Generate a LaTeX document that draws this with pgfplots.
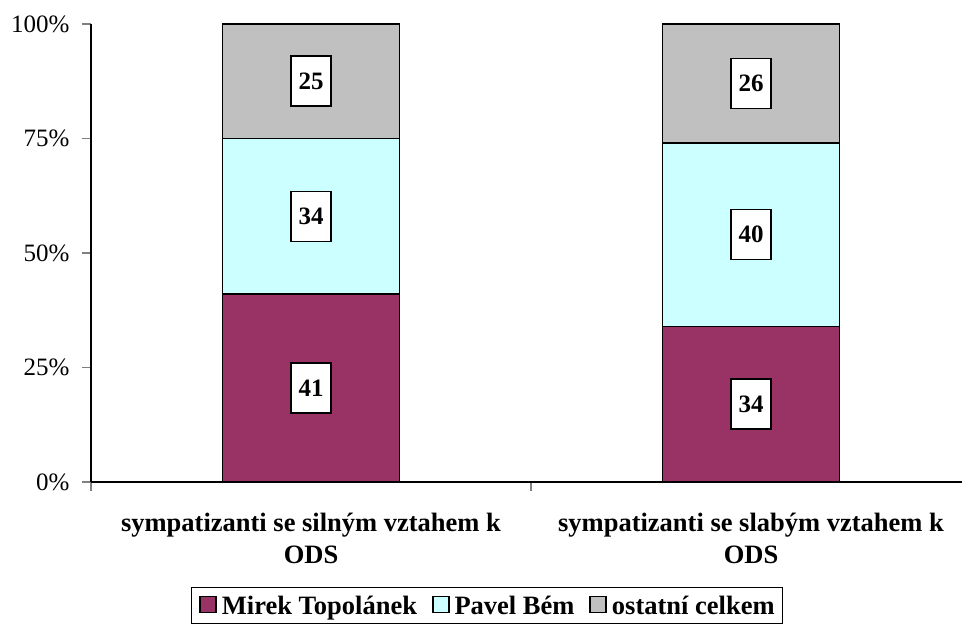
\documentclass[border=0pt]{standalone}
\usepackage{fontspec}
\setmainfont{Liberation Serif}
\usepackage{pgfplots}
\pgfplotsset{compat=1.18}
\definecolor{tp}{RGB}{153,51,102}
\definecolor{pb}{RGB}{204,255,255}
\definecolor{oc}{RGB}{192,192,192}
\begin{document}
\begin{tikzpicture}
\path[use as bounding box] (0,0) rectangle (962bp,627bp);
\begin{axis}[
  at={(91bp,145bp)}, anchor=south west,
  scale only axis, width=880bp, height=458bp,
  ybar stacked, bar width=176.6bp,
  xmin=-0.5, xmax=1.5, ymin=0, ymax=100,
  axis lines=left, axis line style={-, line width=1.5bp},
  xtick={0,1},
  xticklabels={{sympatizanti se silným vztahem k\\ODS},{sympatizanti se slabým vztahem k\\ODS}},
  major x tick style={draw=none},
  minor xtick={-0.5,0.5,1.5},
  minor x tick style={line width=1.5bp},
  minor tick length=9bp,
  ytick={0,25,50,75,100},
  yticklabel={\pgfmathprintnumber{\tick}\%},
  y tick style={line width=1.5bp},
  major tick length=9bp,
  tick align=outside,
  /pgf/number format/assume math mode=true,
  yticklabel style={font=\fontsize{25bp}{28bp}\selectfont, xshift=-9bp},
  xticklabel style={align=center, font=\bfseries\fontsize{26.5bp}{32bp}\selectfont, yshift=-19bp},
  legend columns=3,
  legend style={at={(0.45,-0.229)}, anchor=north, draw=black, line width=1.5bp,
    font=\bfseries\fontsize{26.5bp}{30bp}\selectfont, inner xsep=8bp, inner ysep=6bp,
    nodes={inner xsep=0pt, inner ysep=2bp},
    /tikz/every odd column/.append style={column sep=5bp},
    /tikz/every even column/.append style={column sep=15bp}},
  legend image code/.code={\draw[#1, draw=black, line width=1.5bp] (0bp,-7bp) rectangle (16bp,9bp);},
  every axis plot/.append style={draw=black, line width=1.5bp},
]
\addplot[fill=tp] coordinates {(0,41) (1,34)};
\addplot[fill=pb] coordinates {(0,34) (1,40)};
\addplot[fill=oc] coordinates {(0,25) (1,26)};
\legend{Mirek Topolánek, Pavel Bém, ostatní celkem}
\end{axis}
\begin{axis}[
  at={(91bp,145bp)}, anchor=south west,
  scale only axis, width=880bp, height=458bp,
  xmin=-0.5, xmax=1.5, ymin=0, ymax=100,
  hide axis,
]
\addplot[draw=none, mark=none, nodes near coords, point meta=explicit symbolic,
  nodes near coords style={anchor=center, draw=black, fill=white, line width=1.5bp,
    minimum width=40bp, minimum height=50bp, inner sep=0pt,
    font=\bfseries\fontsize{25bp}{28bp}\selectfont}]
  table[meta=lab] {
x y lab
0 20.5 41
0 58 34
0 87.5 25
1 17 34
1 54 40
1 87 26
};
\end{axis}
\end{tikzpicture}
\end{document}
